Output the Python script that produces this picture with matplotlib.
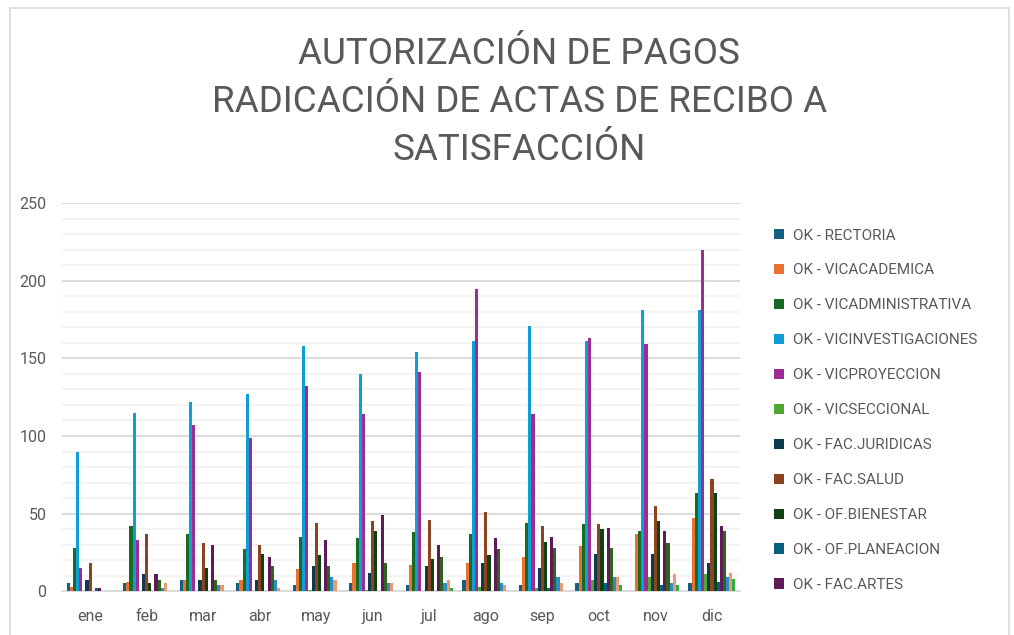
import numpy as np
import matplotlib
matplotlib.use("Agg")
import matplotlib.pyplot as plt
from matplotlib.patches import Patch, Rectangle

plt.rcParams["font.family"] = ["Roboto", "DejaVu Sans"]

months = ["ene", "feb", "mar", "abr", "may", "jun", "jul", "ago", "sep", "oct", "nov", "dic"]

series_names = [
    "OK - RECTORIA", "OK - VICACADEMICA", "OK - VICADMINISTRATIVA",
    "OK - VICINVESTIGACIONES", "OK - VICPROYECCION", "OK - VICSECCIONAL",
    "OK - FAC.JURIDICAS", "OK - FAC.SALUD", "OK - OF.BIENESTAR",
    "OK - OF.PLANEACION", "OK - FAC.ARTES",
    "OK - OTRA 1", "OK - OTRA 2", "OK - OTRA 3", "OK - OTRA 4",
]

rectoria = [5, 5, 7, 5, 4, 5, 4, 7, 4, 5, 0, 5]
vicacademica = [3, 6, 7, 7, 14, 18, 17, 18, 22, 29, 37, 47]
vicadministrativa = [28, 42, 37, 27, 35, 34, 38, 37, 44, 43, 39, 63]
vicinvestigaciones = [90, 115, 122, 127, 158, 140, 154, 161, 171, 161, 181, 181]
vicproyeccion = [15, 33, 107, 99, 132, 114, 141, 195, 114, 163, 159, 220]
vicseccional = [0, 0, 0, 0, 1, 1, 0, 3, 2, 7, 9, 11]
fac_juridicas = [7, 11, 7, 7, 16, 12, 16, 18, 15, 24, 24, 18]
fac_salud = [18, 37, 31, 30, 44, 45, 46, 51, 42, 43, 55, 72]
of_bienestar = [0, 5, 15, 24, 23, 39, 21, 23, 32, 40, 45, 63]
of_planeacion = [2, 0, 0, 0, 0, 0, 0, 0, 2, 5, 4, 6]
fac_artes = [2, 11, 30, 22, 33, 49, 30, 34, 35, 41, 39, 42]
otra_1 = [0, 7, 7, 16, 16, 18, 22, 27, 28, 28, 31, 39]
otra_2 = [0, 2, 4, 7, 9, 5, 5, 5, 9, 9, 5, 9]
otra_3 = [0, 5, 4, 2, 7, 5, 7, 4, 5, 9, 11, 12]
otra_4 = [0, 0, 0, 0, 0, 0, 2, 0, 0, 4, 4, 8]

values = [rectoria, vicacademica, vicadministrativa, vicinvestigaciones,
          vicproyeccion, vicseccional, fac_juridicas, fac_salud, of_bienestar,
          of_planeacion, fac_artes, otra_1, otra_2, otra_3, otra_4]

colors = ["#156082", "#E97132", "#196B24", "#0F9ED5", "#A02B93", "#4EA72E",
          "#0D3A4E", "#8C441E", "#0F4016", "#095F80", "#601A58",
          "#2F641C", "#2A8FC9", "#ED9A6E", "#2EAD40"]

fig = plt.figure(figsize=(10.14, 6.35), dpi=100)
ax = fig.add_axes([0.061, 0.069, 0.669, 0.611])

x = np.arange(len(months))
n = len(values)
group = 0.83
w = group / n
for i, (vals, c) in enumerate(zip(values, colors)):
    ax.bar(x - group / 2 + w * (i + 0.5), vals, width=w, color=c,
           label=series_names[i], zorder=3)

ax.set_xlim(-0.5, 11.5)
ax.set_ylim(0, 250)
ax.set_yticks(np.arange(0, 251, 50))
ax.set_yticks(np.arange(0, 251, 10), minor=True)
ax.grid(axis="y", which="major", color="#D9D9D9", lw=1.3, zorder=0)
ax.grid(axis="y", which="minor", color="#F2F2F2", lw=1.3, zorder=0)
ax.set_xticks(x)
ax.set_xticklabels(months)
ax.tick_params(axis="both", which="both", length=0, labelsize=11.5,
               labelcolor="#595959")
ax.tick_params(axis="y", pad=11)
ax.tick_params(axis="x", pad=13)
for s in ["top", "right", "left"]:
    ax.spines[s].set_visible(False)
ax.spines["bottom"].set_color("#D9D9D9")
ax.spines["bottom"].set_linewidth(1.3)

fig.text(0.512, 0.839, "AUTORIZACIÓN DE PAGOS\nRADICACIÓN DE ACTAS DE RECIBO A\nSATISFACCIÓN",
         ha="center", va="center", fontsize=26.5, color="#595959",
         linespacing=1.42)

handles = [Patch(facecolor=colors[i], edgecolor="none") for i in range(11)]
fig.legend(handles, series_names[:11], loc="center left",
           bbox_to_anchor=(0.75, 0.354), frameon=False, fontsize=11,
           labelcolor="#595959", handlelength=0.65, handleheight=0.65,
           handletextpad=0.6, labelspacing=1.37)

fig.patches.append(Rectangle((0.01, -0.05), 0.985, 1.037, transform=fig.transFigure,
                             fill=False, edgecolor="#D9D9D9", lw=1.2))

fig.savefig("out.png", dpi=100)
